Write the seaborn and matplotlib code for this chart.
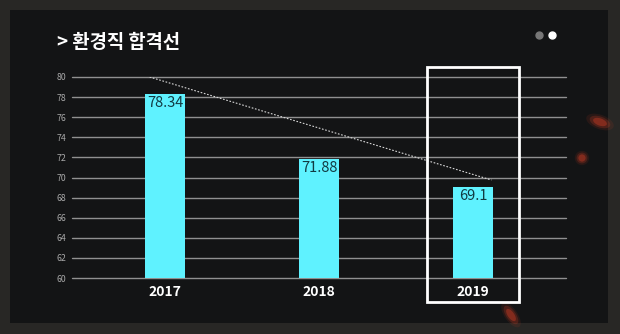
import matplotlib
matplotlib.use("Agg")
import matplotlib.pyplot as plt
from matplotlib.patches import Rectangle, Ellipse
from matplotlib.lines import Line2D
from matplotlib.transforms import IdentityTransform
import seaborn as sns
import pandas as pd

# ---- data ----
years = ["2017", "2018", "2019"]
scores = [78.34, 71.88, 69.1]
value_labels = ["78.34", "71.88", "69.1"]
trend_x = [-0.1, 2.12]
trend_y = [80.0, 69.75]
y_ticks = [60, 62, 64, 66, 68, 70, 72, 74, 76, 78, 80]
title = "> 환경직 합격선"

sns.set_theme(style="dark")
plt.rcParams['font.family'] = ['Noto Sans CJK KR', 'DejaVu Sans']

df = pd.DataFrame({"year": years, "score": scores})

W, H = 620, 334
fig = plt.figure(figsize=(6.2, 3.34), dpi=100)
fig.patch.set_facecolor("#282725")
# inner panel
panel = Rectangle((10/W, 1-323/H), 598/W, 313/H,
                  transform=fig.transFigure, facecolor="#131415",
                  edgecolor="none", zorder=-10)
fig.add_artist(panel)

# decorative red glows (pixel coordinates)
for (cx, cy, w, h, ang) in [(600, 122, 18, 9, -20), (582, 158, 9, 9, 0), (511, 315, 18, 8, -55)]:
    for k, a in [(1.6, 0.12), (1.2, 0.25), (0.8, 0.45)]:
        fig.add_artist(Ellipse((cx, H - cy), w * k, h * k, angle=ang,
                               transform=IdentityTransform(), facecolor="#c23a22",
                               edgecolor="none", alpha=a, zorder=-5))

ax = fig.add_axes([72/W, 1-278/H, 494/W, 201/H])
ax.set_zorder(2)
ax.set_facecolor("none")

sns.barplot(data=df, x="year", y="score", color="#5FF2FF", saturation=1,
            width=0.265, ax=ax, zorder=3, edgecolor="none", linewidth=0)
ax.set_ylim(60, 80)
ax.set_xlim(-0.604, 2.604)
ax.set_yticks(y_ticks)
ax.set_yticklabels([str(t) for t in y_ticks], fontsize=6.3, color="#a8a8a8")
ax.yaxis.grid(True, color="#909090", linewidth=1.0, zorder=1)
for gl in ax.get_ygridlines():
    gl.set_clip_on(False)
ax.xaxis.grid(False)
ax.set_axisbelow(True)
ax.tick_params(axis="y", length=0, pad=4)
ax.tick_params(axis="x", length=0, pad=5)
for lbl in ax.get_xticklabels():
    lbl.set_color("white")
    lbl.set_fontsize(10)
    lbl.set_fontweight("bold")
ax.set_xlabel("")
ax.set_ylabel("")
for s in ax.spines.values():
    s.set_visible(False)

# value labels inside bars
for i, (v, t) in enumerate(zip(scores, value_labels)):
    ax.text(i, v - 0.25, t, ha="center", va="top", fontsize=10.5,
            color="#123a42", zorder=5)

# trend line
ax.plot(trend_x, trend_y, color="#d8d8d8", linestyle=(0, (1.5, 1.5)),
        linewidth=0.8, zorder=4)

# highlight box around 2019
ax.add_patch(Rectangle((1.70, 57.6), 0.60, 23.4, fill=False, edgecolor="white",
                       linewidth=2, clip_on=False, zorder=6))

# title
fig.text(57/W, 1-42/H, title, color="white", fontsize=13.5,
         fontweight="bold", ha="left", va="center")

# pager dots
fig.add_artist(Line2D([539/W], [1-35/H], transform=fig.transFigure,
                      marker="o", markersize=5, color="#777777", linestyle="none"))
fig.add_artist(Line2D([552/W], [1-35/H], transform=fig.transFigure,
                      marker="o", markersize=5, color="white", linestyle="none"))

fig.savefig("out.png", dpi=100, facecolor=fig.get_facecolor())
